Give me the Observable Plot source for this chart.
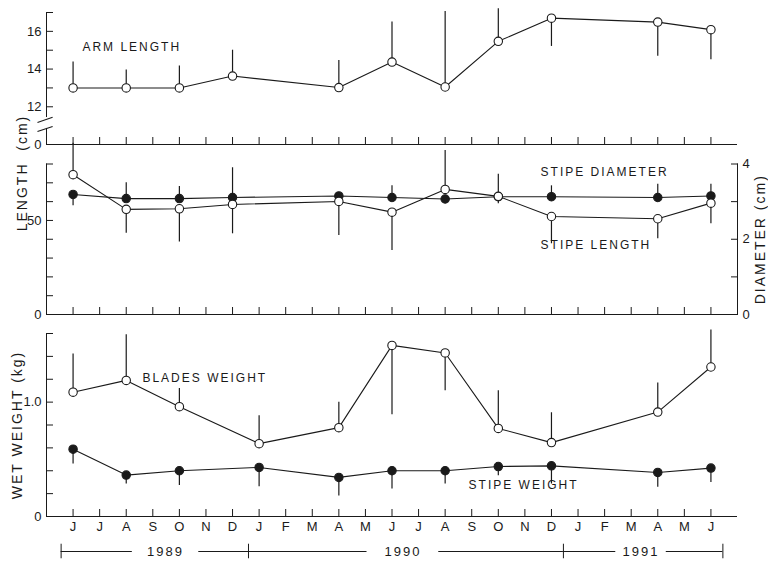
<!DOCTYPE html>
<html><head><meta charset="utf-8">
<script src="https://cdn.jsdelivr.net/npm/d3@7"></script>
<script src="https://cdn.jsdelivr.net/npm/@observablehq/plot@0.6"></script>
<style>
body{margin:0;background:#fff;}
#chart{position:relative;width:768px;height:566px;overflow:hidden;background:#fff;font-family:"Liberation Sans",Arial,sans-serif;}
#chart svg{position:absolute;left:0;}
#chart g[aria-label="text"] text{letter-spacing:2px;}
#chart g[aria-label="ytitle"] text{letter-spacing:1.3px;}
#chart g[aria-label="ytitle2"] text{letter-spacing:0.8px;}
</style></head><body><div id="chart"></div>
<script>
// month index: 0 = May 1989 ... 26 = July 1991
const monthTicks = d3.range(1, 26);
const monthLabels = ["J","J","A","S","O","N","D","J","F","M","A","M","J","J","A","S","O","N","D","J","F","M","A","M","J"];

const armMonths = [1,3,5,7,11,13,15,17,19,23,25];
const armLength = [13.0,13.0,13.0,13.63,13.02,14.37,13.05,15.47,16.7,16.49,16.09];
const armLengthBar = [14.37,13.95,14.16,15.0,14.46,16.5,17.05,17.2,15.2,14.68,14.5];

const stipeMonths = [1,3,5,7,11,13,15,17,19,23,25];
const stipeLength = [74.3,55.9,56.2,58.5,60.1,54.4,66.5,62.8,52.1,50.9,59.2];
const stipeLengthBar = [91,43.2,38.5,42.9,42,34,87.2,58.9,37.6,40.3,48.2];
const stipeDiameter = [3.19,3.08,3.08,3.11,3.15,3.11,3.07,3.13,3.13,3.11,3.15];
const stipeDiameterBar = [2.89,3.5,3.4,3.9,null,3.42,null,3.73,3.42,3.46,3.46];

const weightMonths = [1,3,5,8,11,13,15,17,19,23,25];
const bladesWeight = [1.087,1.19,0.96,0.637,0.777,1.496,1.43,0.77,0.646,0.913,1.307];
const bladesWeightBar = [1.42,1.59,1.12,0.88,1.0,0.89,1.10,1.10,0.907,1.168,1.63];
const stipeWeight = [0.589,0.362,0.40,0.429,0.342,0.40,0.40,0.437,0.443,0.385,0.423];
const stipeWeightBar = [0.458,0.284,0.27,0.26,0.18,0.24,0.284,0.357,0.284,0.255,0.298];

const armTicks = [12,13,14,15,16,17];
const armTickLabels = [12,14,16];
const lengthTicks = d3.range(0, 81, 10);
const lengthTickLabels = [0,50];
const diameterTicks = [0,1,2,3,4];
const diameterTickLabels = [0,2,4];
const weightTicks = [0,0.2,0.4,0.6,0.8,1.0,1.2,1.4,1.6];
const weightTickLabels = [0,1.0];

const years = ["1989","1990","1991"];
const yearBounds = [0.55, 7.6, 19.45, 25.45];
const yearLabelAt = [4.48, 13.41, 22.37];
const yearGaps = [1.25, 1.35, 0.95];

const ink = "#1a1a1a";
const DIAM = 20; // 4 cm diameter <-> 80 cm length
const chart = document.getElementById("chart");
const rows = (ms, vs, bs) => ms.map((m, i) => ({m, v: vs[i], b: bs[i]}));
const arm = rows(armMonths, armLength, armLengthBar);
const sLen = rows(stipeMonths, stipeLength, stipeLengthBar);
const sDia = rows(stipeMonths, stipeDiameter.map(d => d * DIAM), stipeDiameterBar.map(d => d == null ? null : d * DIAM));
const blades = rows(weightMonths, bladesWeight, bladesWeightBar);
const sWt = rows(weightMonths, stipeWeight, stipeWeightBar);

function series(data, filled) {
  return [
    Plot.line(data, {x: "m", y: "v", stroke: ink, strokeWidth: 1.1}),
    Plot.ruleX(data.filter(d => d.b != null), {x: "m", y1: "v", y2: "b", stroke: ink, strokeWidth: 1.2}),
    Plot.dot(data, {x: "m", y: "v", r: 4.2, fill: filled ? ink : "white", stroke: ink, strokeWidth: 1.1})
  ];
}
function xTicks() {
  return Plot.axisX(monthTicks, {tickSize: -7, tickFormat: () => "", stroke: ink});
}
function panel(top, height, mt, mb, yDomain, marks, noAxes) {
  const svg = Plot.plot({
    width: 768, height, marginLeft: 46, marginRight: 31, marginTop: mt, marginBottom: mb,
    x: {domain: [0, 26], label: null, ...(noAxes ? {axis: null} : {})},
    y: {domain: yDomain, label: null, ...(noAxes ? {axis: null} : {})},
    style: {background: "transparent", overflow: "visible", fontFamily: '"Liberation Sans", Arial, sans-serif', fontSize: "13px", color: ink},
    marks
  });
  svg.style.top = top + "px";
  chart.append(svg);
}

// Panel 1: arm length (broken axis)
panel(0, 150, 12, 6, [10, 17], [
  Plot.ruleY([10], {stroke: ink}),
  Plot.ruleX([0], {y1: 11.43, y2: 17, stroke: ink}),
  Plot.ruleX([0], {y1: 10, y2: 10.85, stroke: ink}),
  Plot.link([11.17, 10.69], {x1: -0.34, x2: 0.23, y1: d => d, y2: d => d + 0.27, stroke: ink, strokeWidth: 1.1}),
  xTicks(),
  Plot.axisY(armTicks, {tickSize: -7, tickFormat: () => "", stroke: ink}),
  Plot.axisY([10, ...armTickLabels], {tickSize: 0, tickPadding: 5, tickFormat: d => d === 10 ? "0" : String(d)}),
  ...series(arm, false),
  Plot.text(["ARM LENGTH"], {x: 1.35, y: 15.15, textAnchor: "start", fontSize: 12, fill: ink})
]);

// Panel 2: stipe length & diameter
panel(150, 170, 13.5, 6, [0, 80], [
  Plot.ruleY([0], {stroke: ink}),
  Plot.ruleX([0, 26], {stroke: ink}),
  xTicks(),
  Plot.axisY(lengthTicks, {tickSize: -7, tickFormat: () => "", stroke: ink}),
  Plot.axisY(lengthTickLabels, {tickSize: 0, tickPadding: 5}),
  Plot.axisY(diameterTicks.map(d => d * DIAM), {anchor: "right", tickSize: -7, tickFormat: () => "", stroke: ink}),
  Plot.axisY(diameterTickLabels.map(d => d * DIAM), {anchor: "right", tickSize: 0, tickPadding: 5, tickFormat: d => String(d / DIAM)}),
  ...series(sDia, true),
  ...series(sLen, false),
  Plot.text(["STIPE DIAMETER"], {x: 18.59, y: 75.5, textAnchor: "start", fontSize: 12, fill: ink}),
  Plot.text(["STIPE LENGTH"], {x: 18.59, y: 36.7, textAnchor: "start", fontSize: 12, fill: ink}),
  Plot.text(["LENGTH  (cm)"], {frameAnchor: "top-left", dx: -29, dy: 9, rotate: -90, textAnchor: "middle", fontSize: 14, fill: ink, ariaLabel: "ytitle2"}),
  Plot.text(["DIAMETER (cm)"], {frameAnchor: "right", dx: 23, rotate: -90, textAnchor: "middle", fontSize: 14, fill: ink, ariaLabel: "ytitle"})
]);

// Panel 3: wet weight
panel(320, 246, 13, 50, [0, 1.6], [
  Plot.ruleY([0], {stroke: ink}),
  Plot.ruleX([0], {stroke: ink}),
  xTicks(),
  Plot.axisX(monthTicks, {tickSize: 0, tickPadding: 5, tickFormat: d => monthLabels[d - 1]}),
  Plot.axisY(weightTicks, {tickSize: -7, tickFormat: () => "", stroke: ink}),
  Plot.axisY(weightTickLabels, {tickSize: 0, tickPadding: 5, tickFormat: d => d === 0 ? "0" : d.toFixed(1)}),
  ...series(blades, false),
  ...series(sWt, true),
  Plot.text(["BLADES WEIGHT"], {x: 3.61, y: 1.206, textAnchor: "start", fontSize: 12, fill: ink}),
  Plot.text(["STIPE WEIGHT"], {x: 15.88, y: 0.271, textAnchor: "start", fontSize: 12, fill: ink}),
  Plot.text(["WET WEIGHT (kg)"], {frameAnchor: "left", dx: -29, rotate: -90, textAnchor: "middle", fontSize: 14, fill: ink, ariaLabel: "ytitle"})
]);

// Year row
const yearSegments = years.flatMap((y, i) => [
  {x1: yearBounds[i], x2: yearLabelAt[i] - yearGaps[i]},
  {x1: yearLabelAt[i] + yearGaps[i], x2: yearBounds[i + 1]}
]);
panel(538, 26, 0, 0, [0, 1], [
  Plot.ruleY(yearSegments, {x1: "x1", x2: "x2", y: 0.5, stroke: ink}),
  Plot.ruleX(yearBounds, {x: d => d, y1: 0.22, y2: 0.78, stroke: ink}),
  Plot.text(years, {x: (d, i) => yearLabelAt[i], y: 0.5, fontSize: 13, fill: ink, ariaLabel: "year"})
], true);
</script>
</body></html>
